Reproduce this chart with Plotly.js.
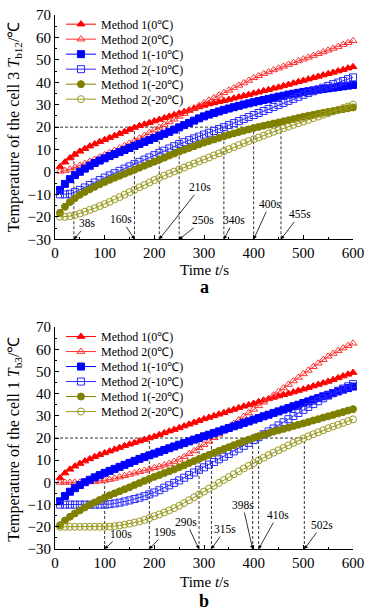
<!DOCTYPE html>
<html>
<head>
<meta charset="utf-8">
<script src="https://cdn.plot.ly/plotly-3.0.1.min.js"></script>
<style>html,body{margin:0;padding:0;background:#fff;}#chart{width:372px;height:610px;}</style>
</head>
<body>
<div id="chart"></div>
<script>
// time axis (s)
const time = [10,20,30,40,50,60,70,80,90,100,110,120,130,140,150,160,170,180,190,200,
  210,220,230,240,250,260,270,280,290,300,310,320,330,340,350,360,370,380,390,400,
  410,420,430,440,450,460,470,480,490,500,510,520,530,540,550,560,570,580,590,600];

const seriesNames = ["Method 1(0℃)","Method 2(0℃)","Method 1(-10℃)","Method 2(-10℃)","Method 1(-20℃)","Method 2(-20℃)"];

// (a) cell 3, T_b12
const a_m1_0 = [2.3,4.4,6.2,7.8,9.2,10.4,11.5,12.5,13.5,14.4,
  15.3,16.2,17.1,18.0,18.9,19.8,20.6,21.3,22.0,22.7,
  23.4,24.1,24.8,25.5,26.2,26.9,27.6,28.3,29.0,29.7,
  30.3,30.8,31.3,31.8,32.3,32.9,33.4,34.0,34.5,35.1,
  35.6,36.2,36.7,37.3,37.8,38.4,39.0,39.6,40.2,40.8,
  41.4,42.0,42.6,43.2,43.8,44.4,45.0,45.6,46.3,46.9];
const a_m2_0 = [0.3,0.6,1.2,2.0,2.9,3.8,4.7,5.6,6.6,7.6,
  8.6,9.6,10.6,11.7,12.8,13.9,15.1,16.3,17.5,18.7,
  19.9,21.1,22.3,23.5,24.8,26.0,27.3,28.5,29.6,30.8,
  32.0,33.1,34.2,35.3,36.4,37.5,38.6,39.7,40.8,42.0,
  42.9,43.8,44.6,45.5,46.3,47.1,47.9,48.7,49.5,50.3,
  51.1,51.9,52.7,53.5,54.3,55.1,55.9,56.8,57.6,58.5];
const a_m1_m10 = [-8.0,-5.3,-3.2,-1.4,0.1,1.5,2.8,4.0,5.1,6.1,
  7.1,8.0,8.9,9.8,10.7,11.6,12.5,13.4,14.3,15.2,
  16.1,17.0,17.9,18.9,19.9,20.9,21.9,22.9,23.9,24.8,
  25.6,26.3,27.0,27.7,28.3,28.9,29.5,30.1,30.6,31.1,
  31.6,32.1,32.6,33.1,33.6,34.0,34.5,34.9,35.3,35.7,
  36.0,36.4,36.7,37.0,37.3,37.6,37.9,38.2,38.5,38.8];
const a_m2_m10 = [-10.0,-10.0,-9.7,-9.0,-8.0,-6.9,-5.8,-4.7,-3.6,-2.5,
  -1.5,-0.5,0.5,1.5,2.5,3.5,4.5,5.5,6.5,7.5,
  8.5,9.5,10.5,11.5,12.5,13.3,14.2,15.0,15.8,16.7,
  17.5,18.3,19.2,20.0,20.9,21.8,22.7,23.6,24.5,25.4,
  26.3,27.2,28.1,29.0,29.9,30.8,31.7,32.6,33.5,34.4,
  35.2,36.0,36.8,37.6,38.4,39.2,39.9,40.6,41.4,42.2];
const a_m1_m20 = [-18.2,-15.5,-13.4,-11.7,-10.2,-8.9,-7.7,-6.6,-5.5,-4.5,
  -3.5,-2.6,-1.7,-0.8,0.1,1.0,1.9,2.8,3.7,4.6,
  5.5,6.4,7.3,8.2,9.1,9.9,10.7,11.5,12.3,13.1,
  13.8,14.5,15.2,15.9,16.6,17.2,17.8,18.4,19.0,19.6,
  20.1,20.6,21.1,21.6,22.1,22.6,23.1,23.6,24.1,24.6,
  25.1,25.5,26.0,26.4,26.8,27.2,27.6,28.0,28.4,28.8];
const a_m2_m20 = [-20.0,-20.0,-19.7,-19.2,-18.5,-17.7,-16.9,-16.1,-15.2,-14.3,
  -13.3,-12.2,-11.2,-10.1,-9.0,-7.9,-6.8,-5.8,-4.7,-3.6,
  -2.6,-1.6,-0.7,0.2,1.1,2.0,2.9,3.8,4.7,5.6,
  6.5,7.4,8.3,9.3,10.2,11.1,12.0,12.9,13.8,14.6,
  15.4,16.2,17.1,17.9,18.7,19.5,20.2,21.0,21.7,22.5,
  23.2,24.0,24.7,25.5,26.2,27.0,27.7,28.5,29.2,30.0];

// (b) cell 1, T_b3
const b_m1_0 = [2.0,4.2,5.9,7.3,8.5,9.6,10.6,11.6,12.5,13.3,
  14.1,14.9,15.7,16.5,17.2,17.9,18.6,19.3,20.0,20.7,
  21.5,22.3,23.1,23.8,24.6,25.4,26.2,27.0,27.8,28.6,
  29.3,30.0,30.7,31.4,32.2,32.9,33.6,34.3,34.9,35.6,
  36.3,37.0,37.6,38.3,38.9,39.5,40.1,40.7,41.4,42.0,
  42.7,43.4,44.1,44.8,45.5,46.3,47.1,47.9,48.7,49.5];
const b_m2_0 = [0.0,0.0,0.0,0.0,0.0,0.1,0.2,0.4,0.6,0.9,
  1.3,1.8,2.4,3.0,3.6,4.2,4.8,5.4,6.0,6.6,
  7.2,7.8,8.5,9.4,10.4,11.6,12.9,14.2,15.6,17.0,
  18.5,20.1,21.7,23.3,24.9,26.5,28.1,29.7,31.3,32.9,
  34.5,36.1,37.7,39.3,40.9,42.5,44.1,45.7,47.3,48.9,
  50.5,52.1,53.7,55.3,56.8,58.1,59.3,60.5,61.6,62.7];
const b_m1_m10 = [-8.5,-6.1,-4.2,-2.6,-1.2,0.1,1.2,2.3,3.3,4.3,
  5.2,6.1,7.0,7.9,8.8,9.7,10.6,11.4,12.2,13.0,
  13.8,14.6,15.4,16.2,17.0,17.7,18.5,19.3,20.0,20.8,
  21.5,22.3,23.0,23.8,24.5,25.3,26.0,26.8,27.5,28.3,
  29.0,29.8,30.5,31.3,32.0,32.8,33.5,34.3,35.0,35.8,
  36.5,37.3,38.0,38.8,39.5,40.3,41.0,41.8,42.5,43.2];
const b_m2_m10 = [-10.0,-10.0,-10.0,-10.0,-10.0,-10.0,-10.0,-10.0,-10.0,-10.0,
  -9.8,-9.5,-9.1,-8.6,-8.1,-7.5,-6.9,-6.2,-5.4,-4.5,
  -3.5,-2.4,-1.3,-0.2,0.9,2.1,3.3,4.5,5.7,6.8,
  8.0,9.2,10.4,11.6,12.8,14.0,15.2,16.5,17.8,19.1,
  20.4,21.7,23.0,24.3,25.7,27.1,28.5,29.9,31.3,32.7,
  34.0,35.3,36.6,37.9,39.1,40.2,41.3,42.3,43.3,44.3];
const b_m1_m20 = [-19.3,-17.2,-15.5,-14.0,-12.6,-11.3,-10.1,-9.0,-7.9,-6.8,
  -5.8,-4.9,-4.0,-3.1,-2.2,-1.2,-0.3,0.7,1.6,2.5,
  3.3,4.2,5.0,5.9,6.8,7.7,8.7,9.6,10.6,11.5,
  12.4,13.3,14.2,15.1,15.9,16.8,17.6,18.5,19.3,20.1,
  20.8,21.5,22.2,22.9,23.5,24.1,24.7,25.4,26.0,26.6,
  27.2,27.9,28.5,29.2,29.8,30.4,31.1,31.7,32.4,33.0];
const b_m2_m20 = [-20.0,-20.0,-20.0,-20.0,-20.0,-20.0,-20.0,-20.0,-20.0,-20.0,
  -19.9,-19.7,-19.4,-19.0,-18.6,-18.1,-17.6,-16.9,-16.1,-15.2,
  -14.4,-13.5,-12.6,-11.6,-10.5,-9.3,-8.0,-6.7,-5.4,-4.1,
  -2.8,-1.5,-0.2,1.1,2.4,3.7,5.0,6.3,7.5,8.7,
  9.9,11.1,12.3,13.4,14.5,15.6,16.7,17.8,18.8,19.8,
  20.8,21.7,22.6,23.5,24.4,25.2,26.0,26.8,27.6,28.4];

// marked times (s) where curves reach the guide level, and the guide levels (℃)
const aMarkTimes = [38,160,210,250,340,400,455];
const aMarkLevels = [10,20,20,20,20,20,20];
const bMarkTimes = [100,190,290,315,398,410,502];
const bMarkLevels = [0,20,20,20,20,20,20];
const guideLevel = 20;

const FONT = "Liberation Serif, Times New Roman, serif";
const styles = [
  {symbol:'triangle-up', color:'#ff0000'},
  {symbol:'triangle-up-open', color:'#ff3030'},
  {symbol:'square', color:'#0000ff'},
  {symbol:'square-open', color:'#2a2aff'},
  {symbol:'circle', color:'#808000'},
  {symbol:'circle-open', color:'#9a9a20'}
];
const aData = [a_m1_0,a_m2_0,a_m1_m10,a_m2_m10,a_m1_m20,a_m2_m20];
const bData = [b_m1_0,b_m2_0,b_m1_m10,b_m2_m10,b_m1_m20,b_m2_m20];

const traces = [];
aData.forEach((ys,i)=>{
  traces.push({x:time,y:ys,name:seriesNames[i],type:'scatter',mode:'lines+markers',
    xaxis:'x',yaxis:'y',legend:'legend',cliponaxis:false,
    line:{color:styles[i].color,width:1},
    marker:{symbol:styles[i].symbol,size:7,color:styles[i].color,line:{color:styles[i].color,width:1}}});
});
bData.forEach((ys,i)=>{
  traces.push({x:time,y:ys,name:seriesNames[i],type:'scatter',mode:'lines+markers',
    xaxis:'x2',yaxis:'y2',legend:'legend2',cliponaxis:false,
    line:{color:styles[i].color,width:1},
    marker:{symbol:styles[i].symbol,size:7,color:styles[i].color,line:{color:styles[i].color,width:1}}});
});

const shapes = [];
function guides(times, levels, xr, yr){
  const maxT = Math.max(...times.filter((t,i)=>levels[i]===guideLevel));
  shapes.push({type:'line',xref:xr,yref:yr,x0:0,x1:maxT,y0:guideLevel,y1:guideLevel,layer:'below',
    line:{color:'#333',width:1,dash:'3px,2px'}});
  times.forEach((t,i)=>{
    shapes.push({type:'line',xref:xr,yref:yr,x0:t,x1:t,y0:-30,y1:levels[i],layer:'below',
      line:{color:'#333',width:1,dash:'3px,2px'}});
  });
}
guides(aMarkTimes,aMarkLevels,'x','y');
guides(bMarkTimes,bMarkLevels,'x2','y2');

const aOff = [[14,-16],[-13,-20],[41,-52],[24,-19],[10,-19],[16,-35],[19,-25]];
const bOff = [[16,-15],[16,-17],[-13,-27],[14,-20],[-10,-44],[19,-34],[18,-24]];
const annotations = [];
function marks(times, offs, xr, yr){
  times.forEach((t,i)=>{
    annotations.push({x:t,y:-30,xref:xr,yref:yr,text:t+'s',showarrow:true,
      ax:offs[i][0],ay:offs[i][1],arrowhead:2,arrowsize:0.9,arrowwidth:0.8,arrowcolor:'#000',
      standoff:0,font:{family:FONT,size:11.5,color:'#000'}});
  });
}
marks(aMarkTimes,aOff,'x','y');
marks(bMarkTimes,bOff,'x2','y2');

const tf = {family:FONT,size:15,color:'#000'};
const yf = {family:FONT,size:16,color:'#000'};
annotations.push(
  {xref:'paper',yref:'paper',x:0.5,y:0.523,xanchor:'center',yanchor:'middle',text:'Time <i>t</i>/s',showarrow:false,font:tf},
  {xref:'paper',yref:'paper',x:0.5,y:-0.061,xanchor:'center',yanchor:'middle',text:'Time <i>t</i>/s',showarrow:false,font:tf},
  {xref:'paper',yref:'paper',x:0.5,y:0.49,xanchor:'center',yanchor:'middle',text:'<b>a</b>',showarrow:false,font:{family:FONT,size:18,color:'#000'}},
  {xref:'paper',yref:'paper',x:0.5,y:-0.098,xanchor:'center',yanchor:'middle',text:'<b>b</b>',showarrow:false,font:{family:FONT,size:18,color:'#000'}},
  {xref:'paper',yref:'paper',x:-0.137,y:0.79,xanchor:'center',yanchor:'middle',textangle:-90,text:'Temperature of the cell 3 <i>T</i><sub>b12</sub>/℃',showarrow:false,font:yf},
  {xref:'paper',yref:'paper',x:-0.137,y:0.205,xanchor:'center',yanchor:'middle',textangle:-90,text:'Temperature of the cell 1 <i>T</i><sub>b3</sub>/℃',showarrow:false,font:yf}
);

const xCommon = {range:[0,600],dtick:100,tick0:0,ticks:'inside',ticklen:4,tickcolor:'#000',
  minor:{ticks:'inside',dtick:50,ticklen:2,tickcolor:'#000'},
  showline:true,linecolor:'#000',linewidth:1,showgrid:false,zeroline:false,
  tickfont:{family:FONT,size:15,color:'#000'}};
const yCommon = {range:[-30,70],dtick:10,tick0:0,ticks:'inside',ticklen:4,tickcolor:'#000',
  minor:{ticks:'inside',dtick:5,ticklen:2,tickcolor:'#000'},
  showline:true,linecolor:'#000',linewidth:1,showgrid:false,zeroline:false,
  tickfont:{family:FONT,size:15,color:'#000'}};

const layout = {
  width:372,height:610,
  margin:{l:55,r:19,t:10,b:61},
  paper_bgcolor:'#fff',plot_bgcolor:'#fff',
  font:{family:FONT,color:'#000'},
  xaxis:Object.assign({},xCommon,{anchor:'y',domain:[0,1]}),
  yaxis:Object.assign({},yCommon,{anchor:'x',domain:[0.58,1]}),
  xaxis2:Object.assign({},xCommon,{anchor:'y2',domain:[0,1]}),
  yaxis2:Object.assign({},yCommon,{anchor:'x2',domain:[0,0.4156]}),
  legend:{x:0.02,y:1.01,xanchor:'left',yanchor:'top',bgcolor:'rgba(0,0,0,0)',font:{family:FONT,size:12,color:'#000'},itemwidth:30},
  legend2:{x:0.02,y:0.425,xanchor:'left',yanchor:'top',bgcolor:'rgba(0,0,0,0)',font:{family:FONT,size:12,color:'#000'},itemwidth:30},
  shapes:shapes,
  annotations:annotations
};
const ENTRY_GAP = 15; // legend row pitch in the reference (px)
Plotly.newPlot('chart',traces,layout,{displayModeBar:false,staticPlot:true}).then(gd=>{
  ['legend','legend2'].forEach(id=>{
    const items = gd.querySelectorAll('g.'+id+' g.traces');
    let x0=null,y0=null;
    items.forEach((g,i)=>{
      const m = /translate\(\s*([-\d.]+)[ ,]+([-\d.]+)\s*\)/.exec(g.getAttribute('transform')||'');
      if(!m) return;
      if(i===0){x0=parseFloat(m[1]);y0=parseFloat(m[2]);}
      g.setAttribute('transform','translate('+x0+','+(y0+i*ENTRY_GAP)+')');
    });
  });
});
</script>
</body>
</html>
